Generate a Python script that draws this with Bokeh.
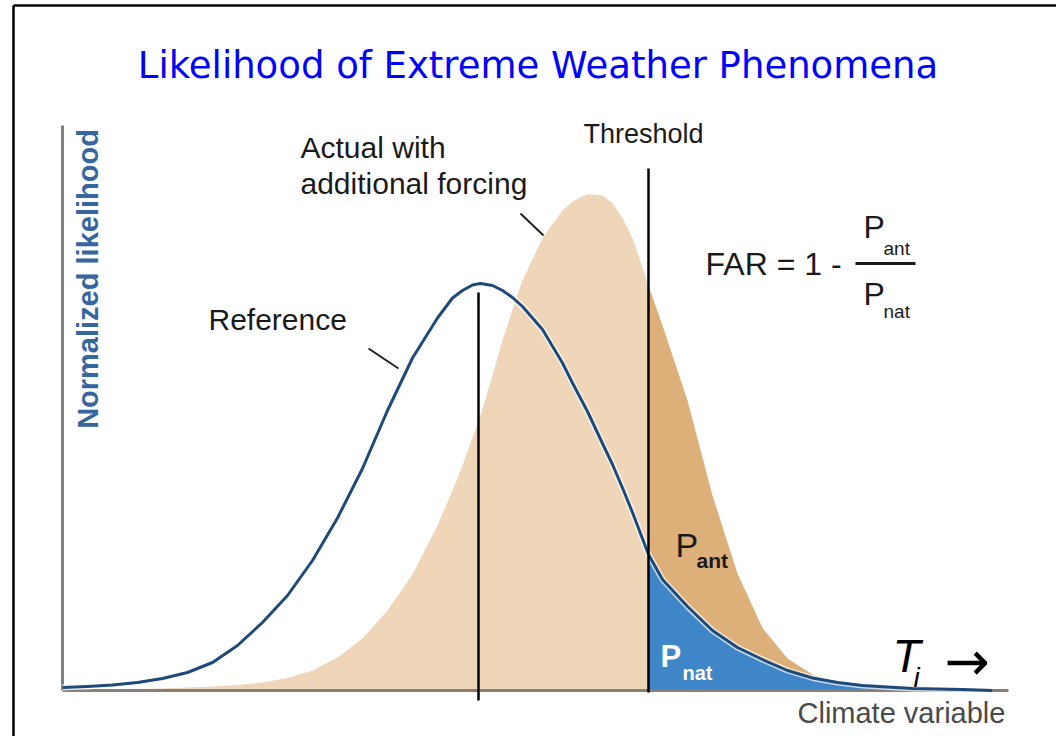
import numpy as np
from bokeh.plotting import figure
from bokeh.models import Range1d, Label
from bokeh.embed import file_html
from bokeh.resources import INLINE

# ---- data ----
climate = [0.0, 0.25, 0.5, 0.75, 1.0, 1.25, 1.5, 1.75, 2.0, 2.25, 2.5, 2.75, 3.0, 3.25,
           3.5, 3.75, 3.9, 4.0, 4.1, 4.18, 4.3, 4.4, 4.5, 4.6, 4.8, 5.0, 5.1, 5.25, 5.4,
           5.5, 5.6, 5.7, 5.86, 6.0, 6.25, 6.5, 6.75, 7.0, 7.25, 7.5, 7.75, 8.0, 8.5,
           9.0, 9.3]
reference = [0.006, 0.008, 0.011, 0.016, 0.024, 0.036, 0.056, 0.09, 0.136, 0.19, 0.26,
             0.345, 0.444, 0.56, 0.665, 0.745, 0.785, 0.8, 0.811, 0.814, 0.81, 0.8,
             0.786, 0.768, 0.722, 0.655, 0.615, 0.558, 0.494, 0.452, 0.405, 0.356,
             0.272, 0.222, 0.168, 0.12, 0.086, 0.062, 0.04, 0.025, 0.016, 0.01, 0.004,
             0.002, 0.0]
actual = [0.0, 0.001, 0.002, 0.003, 0.004, 0.006, 0.008, 0.011, 0.016, 0.025, 0.04,
          0.066, 0.104, 0.16, 0.232, 0.33, 0.4, 0.45, 0.505, 0.55, 0.63, 0.7, 0.762,
          0.82, 0.905, 0.96, 0.978, 0.993, 0.99, 0.975, 0.945, 0.905, 0.81, 0.73, 0.58,
          0.39, 0.234, 0.125, 0.064, 0.032, 0.016, 0.008, 0.002, 0.0, 0.0]
reference_mean = 4.16
threshold = 5.86
axis_x_end = 9.46
axis_y_end = 1.13

xs = np.array(climate)
ref = np.array(reference)
act = np.array(actual)
k = climate.index(threshold)

p = figure(width=1056, height=736,
           x_range=Range1d(-0.62, 9.94), y_range=Range1d(-0.092, 1.38),
           x_axis_type=None, y_axis_type=None,
           toolbar_location=None, output_backend="svg", min_border=0)
p.outline_line_color = None
p.background_fill_color = "white"
p.border_fill_color = "white"

# fills
p.varea(x=xs[:k + 1], y1=np.zeros(k + 1), y2=act[:k + 1], fill_color="#EFD6B8")
p.varea(x=xs[k:], y1=np.zeros(len(xs) - k), y2=act[k:], fill_color="#DDB07A")
p.varea(x=xs[k:], y1=np.zeros(len(xs) - k), y2=ref[k:], fill_color="#3F86C8")

# axes lines
p.line([0, axis_x_end], [0, 0], line_color="#8a7f74", line_width=3)
p.line([0, 0], [0, axis_y_end], line_color="#808080", line_width=3)

# reference curve
p.line(xs, ref, line_color="white", line_width=6, line_alpha=0.7, line_join="round")
p.line(xs, ref, line_color="#1d4a78", line_width=3, line_join="round")

# vertical lines
p.segment(x0=[reference_mean], y0=[-0.02], x1=[reference_mean], y1=[0.796],
          line_color="black", line_width=2.5)
p.segment(x0=[threshold], y0=[-0.004], x1=[threshold], y1=[1.044],
          line_color="black", line_width=2.5)

# leader lines
p.segment(x0=[3.06, 4.58], y0=[0.684, 0.954], x1=[3.36, 4.81], y1=[0.644, 0.91],
          line_color="#222222", line_width=2)

# fraction bar
p.segment(x0=[7.93], y0=[0.854], x1=[8.53], y1=[0.854], line_color="#1a1a1a", line_width=3)

# slide frame
p.segment(x0=[-0.49, -0.49], y0=[-0.1, 1.37], x1=[-0.49, 9.96], y1=[1.37, 1.37],
          line_color="black", line_width=2.5)


def lab(text, x, y, size, color="#1a1a1a", font="Liberation Sans", style="normal",
        align="left", baseline="alphabetic", angle=0.0):
    p.add_layout(Label(x=x, y=y, text=text, text_font=font, text_font_size=f"{size}px",
                       text_color=color, text_font_style=style, text_align=align,
                       text_baseline=baseline, angle=angle))


lab("Likelihood of Extreme Weather Phenomena", 4.755, 1.251, 37, color="#0000FF",
    font="DejaVu Sans", align="center")
lab("Actual with", 2.38, 1.086, 30)
lab("additional forcing", 2.38, 1.014, 30)
lab("Reference", 1.46, 0.742, 30)
lab("Threshold", 5.21, 1.114, 27)
lab("FAR = 1 -", 6.43, 0.854, 32)
lab("P", 8.01, 0.928, 32)
lab("ant", 8.21, 0.884, 19)
lab("P", 8.01, 0.794, 32)
lab("nat", 8.21, 0.758, 19)
lab("P", 6.13, 0.291, 34)
lab("ant", 6.34, 0.26, 21, style="bold")
lab("P", 5.98, 0.069, 31, color="white", style="bold")
lab("nat", 6.2, 0.035, 20, color="white", style="bold")
lab("T", 8.3, 0.07, 46, color="black", style="italic")
lab("i", 8.51, 0.027, 28, color="black", style="italic")
lab("\u2192", 8.82, 0.058, 54, color="black", font="DejaVu Sans")
lab("Climate variable", 7.35, -0.045, 29, color="#4a4a4a")
lab("Normalized likelihood", 0.25, 0.823, 29, color="#3566a0", style="bold",
    align="center", baseline="middle", angle=np.pi / 2)

open("out.html", "w").write(file_html(p, INLINE))
